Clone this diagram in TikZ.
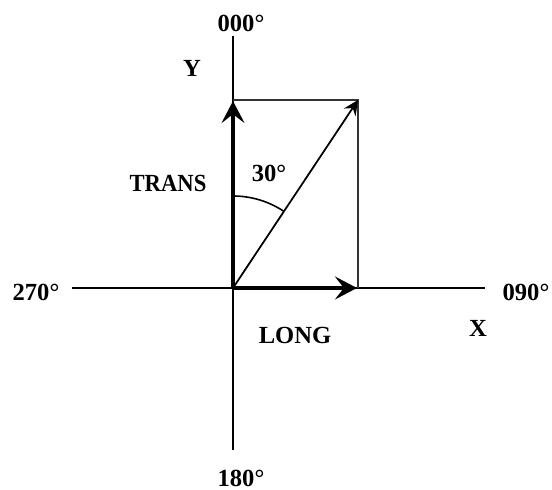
\documentclass[tikz,border=0pt]{standalone}
\usepackage{fontspec}
\setmainfont{Liberation Serif}
\usetikzlibrary{arrows.meta, positioning, calc}

\begin{document}
\begin{tikzpicture}[
  x=0.02cm, y=0.02cm,
  every node/.style={font=\fontsize{14}{16}\selectfont\bfseries, inner sep=0pt},
  axis/.style={line width=0.8pt, color=black},
  frame/.style={line width=0.9pt, color=black!80},
  comp/.style={line width=2.3pt, -{Stealth[length=12.5pt, width=13pt, inset=5pt]}},
  resultant/.style={line width=1pt, -{Stealth[length=8.5pt, width=8pt, inset=3pt]}},
  angmark/.style={line width=0.9pt}
]
  \useasboundingbox (0,0) rectangle (552,490);

  % Punti di riferimento
  \coordinate (O) at (233,202);
  \coordinate (north) at (233,454);
  \coordinate (south) at (233,40);
  \coordinate (west) at (72,202);
  \coordinate (east) at (485,202);
  \coordinate (ytip) at (233,389);
  \coordinate (xtip) at (357,202);
  \coordinate (corner) at (358,390);

  % Assi
  \draw[axis] (north) -- (south);
  \draw[axis] (west) -- (east);

  % Rettangolo delle componenti
  \draw[frame] (233,390) -- (corner) -- (358,202);

  % Componenti e risultante
  \draw[comp] (O) -- (ytip);
  \draw[comp] (O) -- (xtip);
  \draw[resultant] (O) -- (corner);
  \draw[angmark] ($(O)+(0,92)$) arc[start angle=90, end angle=56.4, radius=1.84cm];

  % Etichette
  \node (n000) at (241,467) {000°};
  \node (n180) at (241,12) {180°};
  \node (n270) at (36,198) {270°};
  \node (n090) at (526,198) {090°};
  \node (ylab) at (192,422) {Y};
  \node (xlab) at (478,162) {X};
  \node[xscale=0.92] (trans) at (168,307) {TRANS};
  \node (long) at (295,155) {LONG};
  \node (ang) at (269,317) {30°};
\end{tikzpicture}
\end{document}
